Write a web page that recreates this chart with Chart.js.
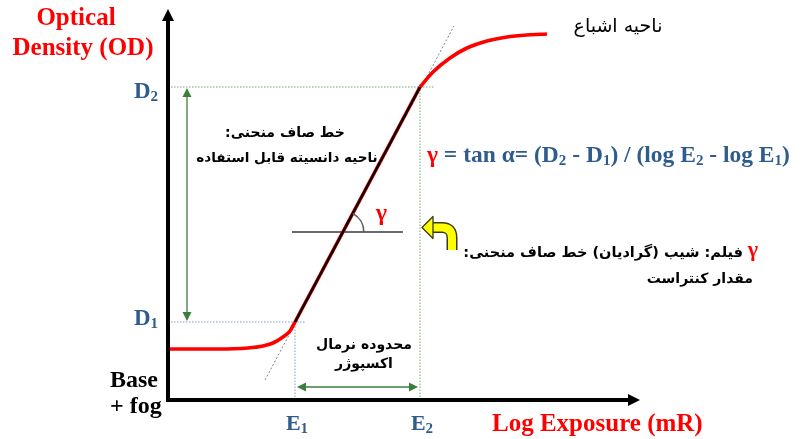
<!DOCTYPE html>
<html>
<head>
<meta charset="utf-8">
<script src="https://cdn.jsdelivr.net/npm/chart.js@4/dist/chart.umd.min.js"></script>
<style>
  html, body { margin: 0; padding: 0; background: #fff; overflow: hidden; }
</style>
</head>
<body>
<canvas id="hd" width="801" height="439"></canvas>
<script>
// Characteristic (H&D) curve of a radiographic film: density vs. log exposure
const logExposure = [0, 0.5, 0.8, 0.95, 1.05, 1.15, 1.22, 1.27, 2.52, 2.65, 2.82, 2.99, 3.19, 3.39, 3.59, 3.79];
const density     = [0.51, 0.51, 0.52, 0.54, 0.57, 0.63, 0.69, 0.78, 3.13, 3.28, 3.42, 3.52, 3.59, 3.63, 3.65, 3.66];

// Limits of the straight-line (useful) portion
const exposureLimits = [1.27, 2.52];   // E1, E2
const densityLimits  = [0.78, 3.13];   // D1, D2
const exposureTickLabels = [['E', '1'], ['E', '2']];
const densityTickLabels  = [['D', '1'], ['D', '2']];

// Extension of the straight portion (thin dotted line)
const tangentExposure = [0.97, 2.86];
const tangentDensity  = [0.20, 3.74];

// Horizontal reference used to mark the gamma angle
const angleRefExposure = [1.24, 2.35];
const angleRefDensity  = 1.68;

const RED = '#ff0000';
const BLUE = '#2f5b8e';
const GREEN = '#3c7f3c';
const SERIF = '"Liberation Serif", "DejaVu Serif", serif';
const FA = '"DejaVu Sans", sans-serif';

const pts = (xs, ys) => xs.map((v, i) => ({ x: v, y: Array.isArray(ys) ? ys[i] : ys }));

// split the curve into toe, straight part and shoulder
const iE1 = logExposure.indexOf(exposureLimits[0]);
const iE2 = logExposure.indexOf(exposureLimits[1]);
const curve = pts(logExposure, density);
const toe = curve.slice(0, iE1 + 1);
const straight = curve.slice(iE1, iE2 + 1);
const shoulder = curve.slice(iE2);

function arrowHead(ctx, x, y, dir, len, half) {
  // dir: angle the arrow points to (radians)
  ctx.save();
  ctx.translate(x, y);
  ctx.rotate(dir);
  ctx.beginPath();
  ctx.moveTo(0, 0);
  ctx.lineTo(-len, -half);
  ctx.lineTo(-len, half);
  ctx.closePath();
  ctx.fill();
  ctx.restore();
}

function runs(ctx, x, y, parts) {
  // draws a sequence of [text, color, isSubscript, font, subFont] pieces left to right
  let cx = x;
  for (const [t, color, sub, font, subFont] of parts) {
    ctx.fillStyle = color;
    ctx.font = sub ? subFont : font;
    ctx.fillText(t, cx, sub ? y + 5 : y);
    cx += ctx.measureText(t).width;
  }
  return cx - x;
}

function measureRuns(ctx, parts) {
  let w = 0;
  for (const [t, color, sub, font, subFont] of parts) {
    ctx.font = sub ? subFont : font;
    w += ctx.measureText(t).width;
  }
  return w;
}

const annotations = {
  id: 'annotations',
  afterDatasetsDraw(chart) {
    const { ctx, chartArea: a, scales: { x, y } } = chart;
    const px = v => x.getPixelForValue(v);
    const py = v => y.getPixelForValue(v);
    ctx.save();

    // --- angle arc at the crossing of the straight line and the reference line
    const yRef = py(angleRefDensity);
    const x1 = px(exposureLimits[0]), y1 = py(densityLimits[0]);
    const x2 = px(exposureLimits[1]), y2 = py(densityLimits[1]);
    const t = (yRef - y1) / (y2 - y1);
    const cx = x1 + t * (x2 - x1);
    const ang = Math.atan2(y2 - y1, x2 - x1);
    ctx.strokeStyle = '#606060';
    ctx.lineWidth = 1.6;
    ctx.beginPath();
    ctx.arc(cx, yRef, 21, ang, 0);
    ctx.stroke();
    ctx.fillStyle = RED;
    ctx.font = 'bold 24px ' + SERIF;
    ctx.textAlign = 'left';
    ctx.textBaseline = 'middle';
    ctx.fillText('γ', cx + 33, yRef - 18);

    // --- green double arrow for the density range
    const gx = px(0.19);
    ctx.strokeStyle = GREEN; ctx.fillStyle = GREEN; ctx.lineWidth = 1.3;
    ctx.beginPath();
    ctx.moveTo(gx, py(densityLimits[1]) + 6);
    ctx.lineTo(gx, py(densityLimits[0]) - 6);
    ctx.stroke();
    arrowHead(ctx, gx, py(densityLimits[1]) + 1, -Math.PI / 2, 9, 4.5);
    arrowHead(ctx, gx, py(densityLimits[0]) - 1, Math.PI / 2, 9, 4.5);

    // --- green double arrow for the exposure range
    const gy = py(0.13);
    ctx.beginPath();
    ctx.moveTo(px(exposureLimits[0]) + 6, gy);
    ctx.lineTo(px(exposureLimits[1]) - 6, gy);
    ctx.stroke();
    arrowHead(ctx, px(exposureLimits[0]) + 2, gy, Math.PI, 9, 4.5);
    arrowHead(ctx, px(exposureLimits[1]) - 2, gy, 0, 9, 4.5);

    // --- axes with arrow heads
    ctx.strokeStyle = '#000'; ctx.fillStyle = '#000'; ctx.lineWidth = 4;
    ctx.beginPath();
    ctx.moveTo(a.left, a.bottom + 2);
    ctx.lineTo(a.left, a.top + 8);
    ctx.moveTo(a.left - 2, a.bottom);
    ctx.lineTo(a.right - 8, a.bottom);
    ctx.stroke();
    arrowHead(ctx, a.left, a.top - 1, -Math.PI / 2, 12, 6);
    arrowHead(ctx, a.right, a.bottom, 0, 12, 6);

    // --- yellow curved pointer
    ctx.lineCap = 'butt'; ctx.lineJoin = 'round';
    const bodyPath = () => {
      ctx.beginPath();
      ctx.moveTo(430, 227.5);
      ctx.lineTo(442, 227.5);
      ctx.quadraticCurveTo(452, 227.5, 452, 238);
      ctx.lineTo(452, 250);
    };
    ctx.strokeStyle = '#3a3a1a'; ctx.lineWidth = 11; bodyPath(); ctx.stroke();
    ctx.strokeStyle = '#ffff00'; ctx.lineWidth = 8; bodyPath(); ctx.stroke();
    ctx.beginPath();
    ctx.moveTo(422, 227.5);
    ctx.lineTo(433, 216.5);
    ctx.lineTo(433, 238.5);
    ctx.closePath();
    ctx.fillStyle = '#ffff00'; ctx.fill();
    ctx.strokeStyle = '#3a3a1a'; ctx.lineWidth = 1.3; ctx.stroke();

    // --- serif labels
    ctx.textBaseline = 'middle';
    ctx.fillStyle = RED;
    ctx.font = 'bold 25px ' + SERIF;
    ctx.textAlign = 'center';
    ctx.fillText('Optical', 76, 19);
    ctx.fillText('Density (OD)', 83, 49);
    ctx.textAlign = 'left';
    ctx.font = 'bold 25px ' + SERIF;
    ctx.fillText('Log Exposure (mR)', 492, 425);

    ctx.fillStyle = '#000';
    ctx.font = 'bold 24px ' + SERIF;
    ctx.fillText('Base', 110, 381);
    ctx.fillText('+ fog', 110, 407);

    // density tick labels
    const bigF = 'bold 23px ' + SERIF, subF = 'bold 15px ' + SERIF;
    densityTickLabels.forEach((lab, i) => {
      const parts = [[lab[0], BLUE, false, bigF, subF], [lab[1], BLUE, true, bigF, subF]];
      const w = measureRuns(ctx, parts);
      runs(ctx, 158 - w, py(densityLimits[i]) + 5 - (i === 0 ? 8 : 0), parts);
    });
    // exposure tick labels
    const eF = 'bold 22px ' + SERIF, eS = 'bold 15px ' + SERIF;
    exposureTickLabels.forEach((lab, i) => {
      const parts = [[lab[0], BLUE, false, eF, eS], [lab[1], BLUE, true, eF, eS]];
      const w = measureRuns(ctx, parts);
      runs(ctx, px(exposureLimits[i]) - w / 2 + 2, 424, parts);
    });

    // gamma formula
    const fF = 'bold 23.5px ' + SERIF, fS = 'bold 15px ' + SERIF;
    runs(ctx, 427, 156, [
      ['γ', RED, false, fF, fS],
      [' = tan α= (D', BLUE, false, fF, fS], ['2', BLUE, true, fF, fS],
      [' - D', BLUE, false, fF, fS], ['1', BLUE, true, fF, fS],
      [') / (log E', BLUE, false, fF, fS], ['2', BLUE, true, fF, fS],
      [' - log E', BLUE, false, fF, fS], ['1', BLUE, true, fF, fS],
      [')', BLUE, false, fF, fS]
    ]);

    // --- Persian labels
    ctx.direction = 'rtl';
    ctx.fillStyle = '#000';
    ctx.font = '19px ' + FA;
    ctx.textAlign = 'center';
    ctx.fillText('ناحیه اشباع', 618, 27);

    ctx.font = 'bold 14px ' + FA;
    ctx.fillText('خط صاف منحنی:', 285, 133);
    ctx.font = 'bold 13.5px ' + FA;
    ctx.fillText('ناحیه دانسیته قابل استفاده', 287, 158);

    ctx.font = 'bold 14px ' + FA;
    ctx.fillText('محدوده نرمال', 364, 345);
    ctx.fillText('اکسپوژر', 364, 364);

    ctx.textAlign = 'right';
    ctx.font = 'bold 14.5px ' + FA;
    ctx.fillText('فیلم: شیب (گرادیان) خط صاف منحنی:', 743, 253);
    ctx.font = 'bold 14px ' + FA;
    ctx.fillText('مقدار کنتراست', 753, 279);
    ctx.direction = 'ltr';
    ctx.fillStyle = RED;
    ctx.font = 'bold 22px ' + SERIF;
    ctx.textAlign = 'right';
    ctx.fillText('γ', 758, 250);

    ctx.restore();
  }
};

const redLine = { showLine: true, borderColor: RED, borderWidth: 3.6 };

new Chart(document.getElementById('hd'), {
  type: 'scatter',
  data: {
    datasets: [
      { // straight-line portion
        data: pts(exposureLimits, densityLimits),
        showLine: true, borderColor: '#000', borderWidth: 2.4, order: 1
      },
      { data: toe, ...redLine, cubicInterpolationMode: 'monotone', order: 2 },
      { data: straight, ...redLine, order: 2 },
      { data: shoulder, ...redLine, cubicInterpolationMode: 'monotone', order: 2 },
      { // dotted extension of the straight portion
        data: pts(tangentExposure, tangentDensity),
        showLine: true, borderColor: '#808080', borderWidth: 1, borderDash: [2, 2], order: 3
      },
      { // gamma angle reference
        data: pts(angleRefExposure, angleRefDensity),
        showLine: true, borderColor: '#6a6a6a', borderWidth: 2, order: 4
      },
      { // D2 level
        data: pts([0, exposureLimits[1] + 0.15], densityLimits[1]),
        showLine: true, borderColor: '#6fa86f', borderWidth: 1, borderDash: [1.5, 1.5], order: 5
      },
      { // E2 level
        data: pts([exposureLimits[1], exposureLimits[1]], [0, densityLimits[1]]),
        showLine: true, borderColor: '#6fa86f', borderWidth: 1, borderDash: [1.5, 1.5], order: 6
      },
      { // D1 level
        data: pts([0, exposureLimits[0] + 0.1], densityLimits[0]),
        showLine: true, borderColor: '#7f9fd0', borderWidth: 1, borderDash: [1.5, 1.5], order: 7
      },
      { // E1 level
        data: pts([exposureLimits[0], exposureLimits[0]], [0, densityLimits[0]]),
        showLine: true, borderColor: '#7f9fd0', borderWidth: 1, borderDash: [1.5, 1.5], order: 8
      }
    ]
  },
  options: {
    responsive: false,
    animation: false,
    events: [],
    layout: { padding: { left: 168, top: 10, right: 161, bottom: 39 } },
    elements: { point: { radius: 0 } },
    scales: {
      x: { type: 'linear', min: 0, max: 4.72, display: false },
      y: { type: 'linear', min: 0, max: 3.9, display: false }
    },
    plugins: { legend: { display: false }, tooltip: { enabled: false } }
  },
  plugins: [annotations]
});
</script>
</body>
</html>
